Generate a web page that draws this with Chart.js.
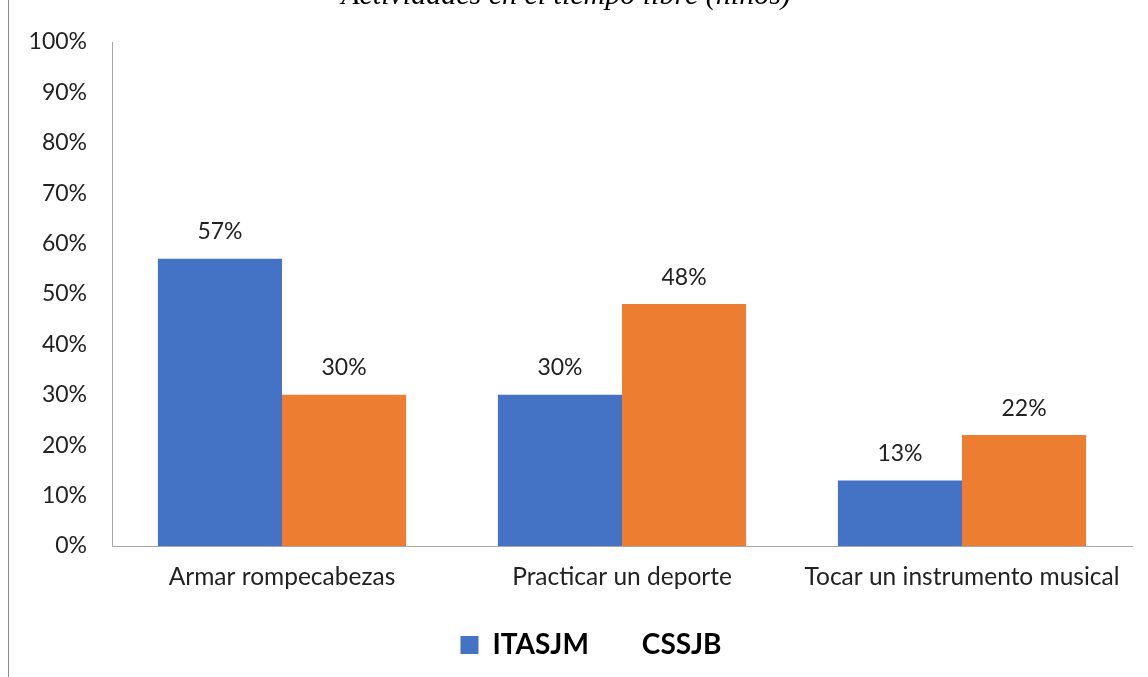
<!DOCTYPE html>
<html>
<head>
<meta charset="utf-8">
<script src="https://cdn.jsdelivr.net/npm/chart.js@4/dist/chart.umd.min.js"></script>
<style>
  html, body { margin: 0; padding: 0; background: #fff; overflow: hidden; }
  .page { position: relative; width: 1148px; height: 677px; overflow: hidden; }
  .page::before {
    content: ''; position: absolute; left: 8px; top: 0; bottom: 0;
    border-left: 1px solid #8c8c8c;
  }
  .chart-box { position: absolute; left: 0; top: -22px; width: 1148px; height: 699px; }
</style>
</head>
<body>
<div class="page">
  <div class="chart-box"><canvas id="actividades"></canvas></div>
</div>
<script>
const TITLE_TEXT = 'Actividades en el tiempo libre (niños)';
const categories = ['Armar rompecabezas', 'Practicar un deporte', 'Tocar un instrumento musical'];
const seriesNames = ['ITASJM', 'CSSJB'];
const itasjm = [57, 30, 13];
const cssjb = [30, 48, 22];

const FONT = 'Lato, "Open Sans", sans-serif';

// writes the percentage above each bar
const barValueLabels = {
  id: 'barValueLabels',
  afterDatasetsDraw(chart) {
    const { ctx } = chart;
    ctx.save();
    ctx.font = `23px ${FONT}`;
    ctx.fillStyle = '#222';
    ctx.textAlign = 'center';
    ctx.textBaseline = 'middle';
    chart.data.datasets.forEach((ds, i) => {
      chart.getDatasetMeta(i).data.forEach((bar, j) => {
        ctx.fillText(`${ds.data[j]}%`, bar.x, bar.y - 27);
      });
    });
    ctx.restore();
  }
};

// nudges the legend a little to the right of the canvas centre
const legendOffset = {
  id: 'legendOffset',
  afterLayout(chart) {
    chart.legend.left += 50;
  }
};

new Chart(document.getElementById('actividades'), {
  type: 'bar',
  data: {
    labels: categories,
    datasets: [
      { label: seriesNames[0], data: itasjm, backgroundColor: '#4472C4' },
      { label: seriesNames[1], data: cssjb, backgroundColor: '#ED7D31' }
    ]
  },
  options: {
    responsive: true,
    maintainAspectRatio: false,
    animation: false,
    layout: { padding: { left: 0, right: 16, top: 0, bottom: 8 } },
    datasets: { bar: { categoryPercentage: 0.73, barPercentage: 1 } },
    scales: {
      x: {
        grid: { display: false, drawTicks: false },
        border: { color: '#a6a6a6', width: 1 },
        ticks: { color: '#222', font: { family: FONT, size: 24.5 }, padding: 16 },
        afterFit: (scale) => { scale.height = 64; }
      },
      y: {
        min: 0,
        max: 100,
        grid: { display: false, drawTicks: false },
        border: { color: '#a6a6a6', width: 1 },
        ticks: {
          stepSize: 10,
          color: '#222',
          font: { family: FONT, size: 23 },
          padding: 25,
          callback: (v) => `${v}%`
        },
        afterFit: (scale) => { scale.width = 112; }
      }
    },
    plugins: {
      title: {
        display: true,
        text: TITLE_TEXT,
        color: '#000',
        font: { family: '"Liberation Serif", serif', size: 30, style: 'italic', weight: 'normal' },
        padding: { top: 0, bottom: 28 }
      },
      legend: {
        position: 'bottom',
        labels: {
          color: '#000',
          font: { family: FONT, size: 28, weight: 'bold' },
          boxWidth: 18,
          boxHeight: 18,
          padding: 21,
          generateLabels: (chart) => Chart.defaults.plugins.legend.labels.generateLabels(chart)
            .map((item, i) => (i === 1 ? { ...item, fillStyle: 'rgba(0,0,0,0)', strokeStyle: 'rgba(0,0,0,0)' } : item))
        }
      },
      tooltip: { enabled: false }
    }
  },
  plugins: [barValueLabels, legendOffset]
});
</script>
</body>
</html>
